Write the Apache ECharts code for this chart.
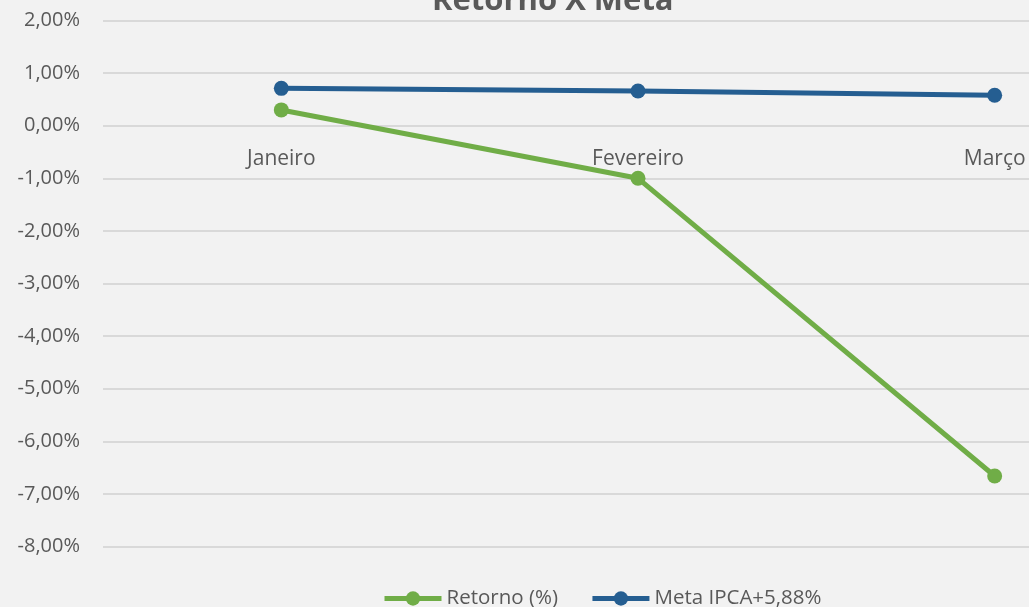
<!DOCTYPE html>
<html>
<head>
<meta charset="utf-8">
<script src="https://cdn.jsdelivr.net/npm/echarts@6/dist/echarts.min.js"></script>
<style>
html,body{margin:0;padding:0;background:#f2f2f2;overflow:hidden;width:1029px;height:607px;}
#c{width:1173px;height:607px;}
</style>
</head>
<body>
<div id="c"></div>
<script>
var categories = ['Janeiro', 'Fevereiro', 'Março'];
var retorno = [0.30, -1.00, -6.66];
var meta = [0.71, 0.66, 0.58];
var yMin = -8, yMax = 2, yStep = 1;

var font = '"Open Sans", "Noto Sans", sans-serif';
var chart = echarts.init(document.getElementById('c'));
chart.setOption({
  backgroundColor: '#f2f2f2',
  animation: false,
  title: {
    text: 'Retorno X Meta',
    left: 432,
    top: -14,
    padding: 0,
    textStyle: { fontFamily: font, fontSize: 31, fontWeight: 'bold', color: '#595959' }
  },
  legend: {
    left: 382,
    top: 588,
    padding: 0,
    itemWidth: 57,
    itemHeight: 18,
    itemGap: 32,
    lineStyle: { width: 5 },
    textStyle: { fontFamily: font, fontSize: 20.5, color: '#595959' },
    data: ['Retorno (%)', 'Meta IPCA+5,88%']
  },
  grid: { left: 103, right: 0, top: 20.5, height: 526, containLabel: false },
  xAxis: {
    type: 'category',
    data: categories,
    boundaryGap: true,
    offset: -421,
    axisLine: { show: false },
    axisTick: { show: false },
    axisLabel: { margin: 23, fontFamily: font, fontSize: 21, color: '#595959' }
  },
  yAxis: {
    type: 'value',
    min: yMin, max: yMax, interval: yStep,
    axisLine: { show: false },
    axisTick: { show: false },
    splitLine: { lineStyle: { color: '#d9d9d9', width: 2 } },
    axisLabel: {
      margin: 23, fontFamily: font, fontSize: 20, color: '#595959',
      formatter: function (v) { return v.toFixed(2).replace('.', ',') + '%'; }
    }
  },
  series: [
    {
      name: 'Retorno (%)', type: 'line', data: retorno,
      symbol: 'circle', symbolSize: 15,
      lineStyle: { color: '#70ad47', width: 5 },
      itemStyle: { color: '#70ad47' }
    },
    {
      name: 'Meta IPCA+5,88%', type: 'line', data: meta,
      symbol: 'circle', symbolSize: 15,
      lineStyle: { color: '#255e91', width: 5 },
      itemStyle: { color: '#255e91' }
    }
  ]
});
</script>
</body>
</html>
